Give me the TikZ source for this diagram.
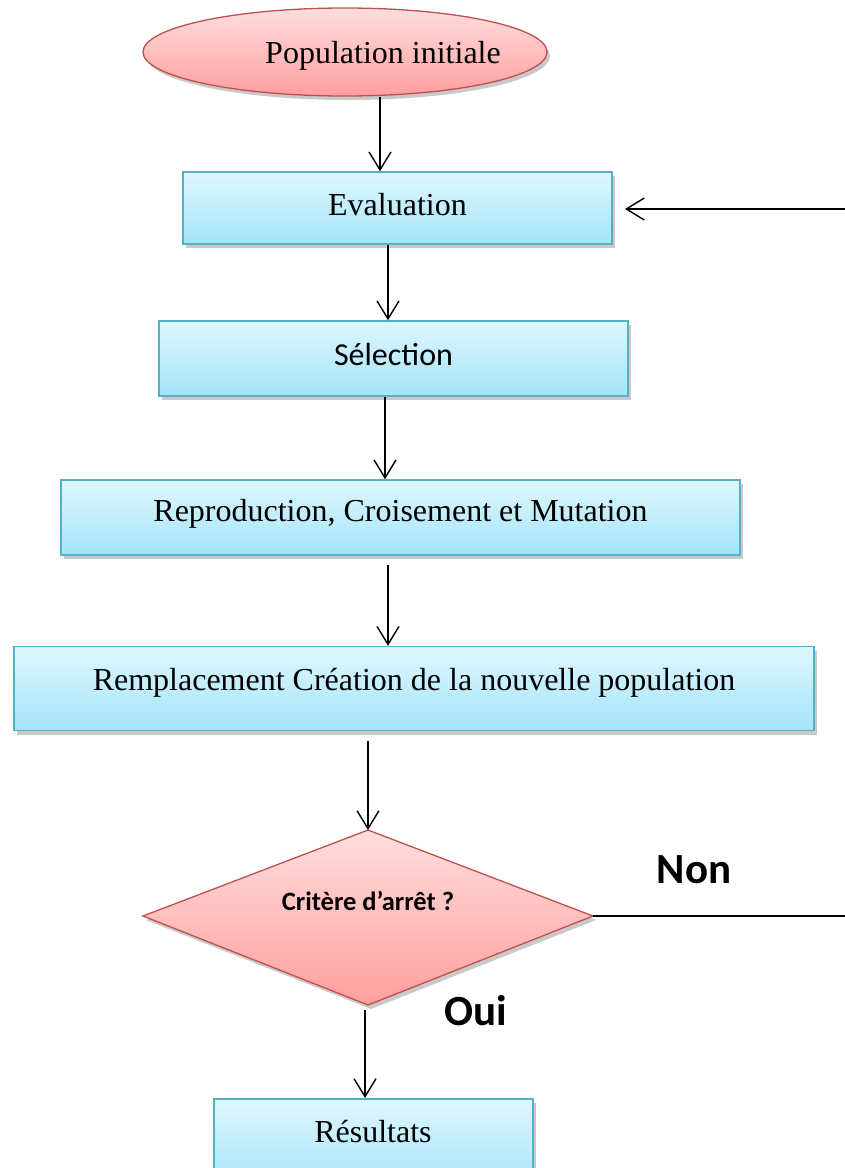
\documentclass[tikz,border=0pt]{standalone}
\usepackage{fontspec}
\setmainfont{Liberation Serif}
\newfontfamily\calib{Carlito}
\usetikzlibrary{arrows.meta,shapes.geometric,shadows}

\definecolor{boxline}{HTML}{55B1CA}
\definecolor{boxtop}{HTML}{DFF7FE}
\definecolor{boxbot}{HTML}{A3E4FA}
\definecolor{redline}{HTML}{C0504D}
\definecolor{redtop}{HTML}{FFDEDE}
\definecolor{redbot}{HTML}{FF9E9E}

\tikzset{
  softshadow/.style={drop shadow={shadow xshift=3pt, shadow yshift=-4pt, opacity=0.35, fill=black!60}},
  stepbox/.style={rectangle, draw=boxline, line width=1.5pt, top color=boxtop, bottom color=boxbot,
    inner sep=0pt, text height=22pt, text depth=8pt, softshadow, font=\fontsize{32}{36}\selectfont},
  redshape/.style={draw=redline, line width=1.3pt, top color=redtop, bottom color=redbot, softshadow},
  arr/.style={line width=1.4pt, -{Straight Barb[length=18pt, width=22pt, line width=1.4pt]}},
  plainline/.style={line width=1.4pt},
  txt/.style={inner sep=0pt, anchor=base, font=\fontsize{32}{36}\selectfont},
  answer/.style={inner sep=0pt, anchor=base, font=\calib\bfseries\fontsize{43}{48}\selectfont}
}

\begin{document}
\begin{tikzpicture}[x=1pt, y=-1pt]
\useasboundingbox[fill=white] (0,0) rectangle (845,1168);

% start of the algorithm
\node[ellipse, redshape, minimum width=404pt, minimum height=88pt, inner sep=0pt] (init) at (345,52) {};
\node[txt] (initlabel) at (383,63) {Population initiale};

% processing steps
\node[stepbox, minimum width=429pt, minimum height=72pt] (eval) at (397.5,208) {Evaluation};
\node[stepbox, minimum width=469pt, minimum height=75pt, text depth=9pt, font=\calib\fontsize{32}{36}\selectfont] (sel) at (393.5,358.5) {Sélection};
\node[stepbox, minimum width=679pt, minimum height=75pt, text depth=15pt] (repro) at (400.5,517.5) {Reproduction, Croisement et Mutation};
\node[stepbox, minimum width=800pt, minimum height=84pt, text depth=19pt] (repl) at (414,688.5) {Remplacement Création de la nouvelle population};

% stopping test
\coordinate (dtop) at (368,830);
\coordinate (dright) at (593,916);
\coordinate (dbot) at (368,1005);
\coordinate (dleft) at (143,916);
\path[redshape] (dtop) -- (dright) -- (dbot) -- (dleft) -- cycle;
\node[inner sep=0pt, anchor=base, font=\calib\bfseries\fontsize{26.5}{30}\selectfont] (crit) at (368,910) {Critère d’arrêt ?};

\node[answer] (non) at (694,883) {Non};
\node[answer] (oui) at (476,1025) {Oui};

% result
\node[stepbox, minimum width=319pt, minimum height=90pt, anchor=north] (res) at (373.5,1098) {};
\node[txt] (reslabel) at (373,1142) {Résultats};

% connectors
\coordinate (a1) at (380,0);
\draw[arr] (init.south -| a1) -- (eval.north -| a1);
\coordinate (a2) at (388,0);
\draw[arr] (eval.south -| a2) -- (sel.north -| a2);
\coordinate (a3) at (385,0);
\draw[arr] (sel.south -| a3) -- (repro.north -| a3);
\coordinate (a4) at (388,565);
\draw[arr] (a4) -- (repl.north -| a4);
\coordinate (a5) at (368,741);
\draw[arr] (a5) -- (dtop);
\coordinate (a6) at (365,1010);
\draw[arr] (a6) -- (res.north -| a6);

% loop back when the test fails
\coordinate (loopout) at (845,916);
\coordinate (loopin) at (845,209);
\coordinate (evalin) at (625,209);
\draw[plainline] (dright) -- (loopout);
\draw[arr] (loopin) -- (evalin);
\end{tikzpicture}
\end{document}
